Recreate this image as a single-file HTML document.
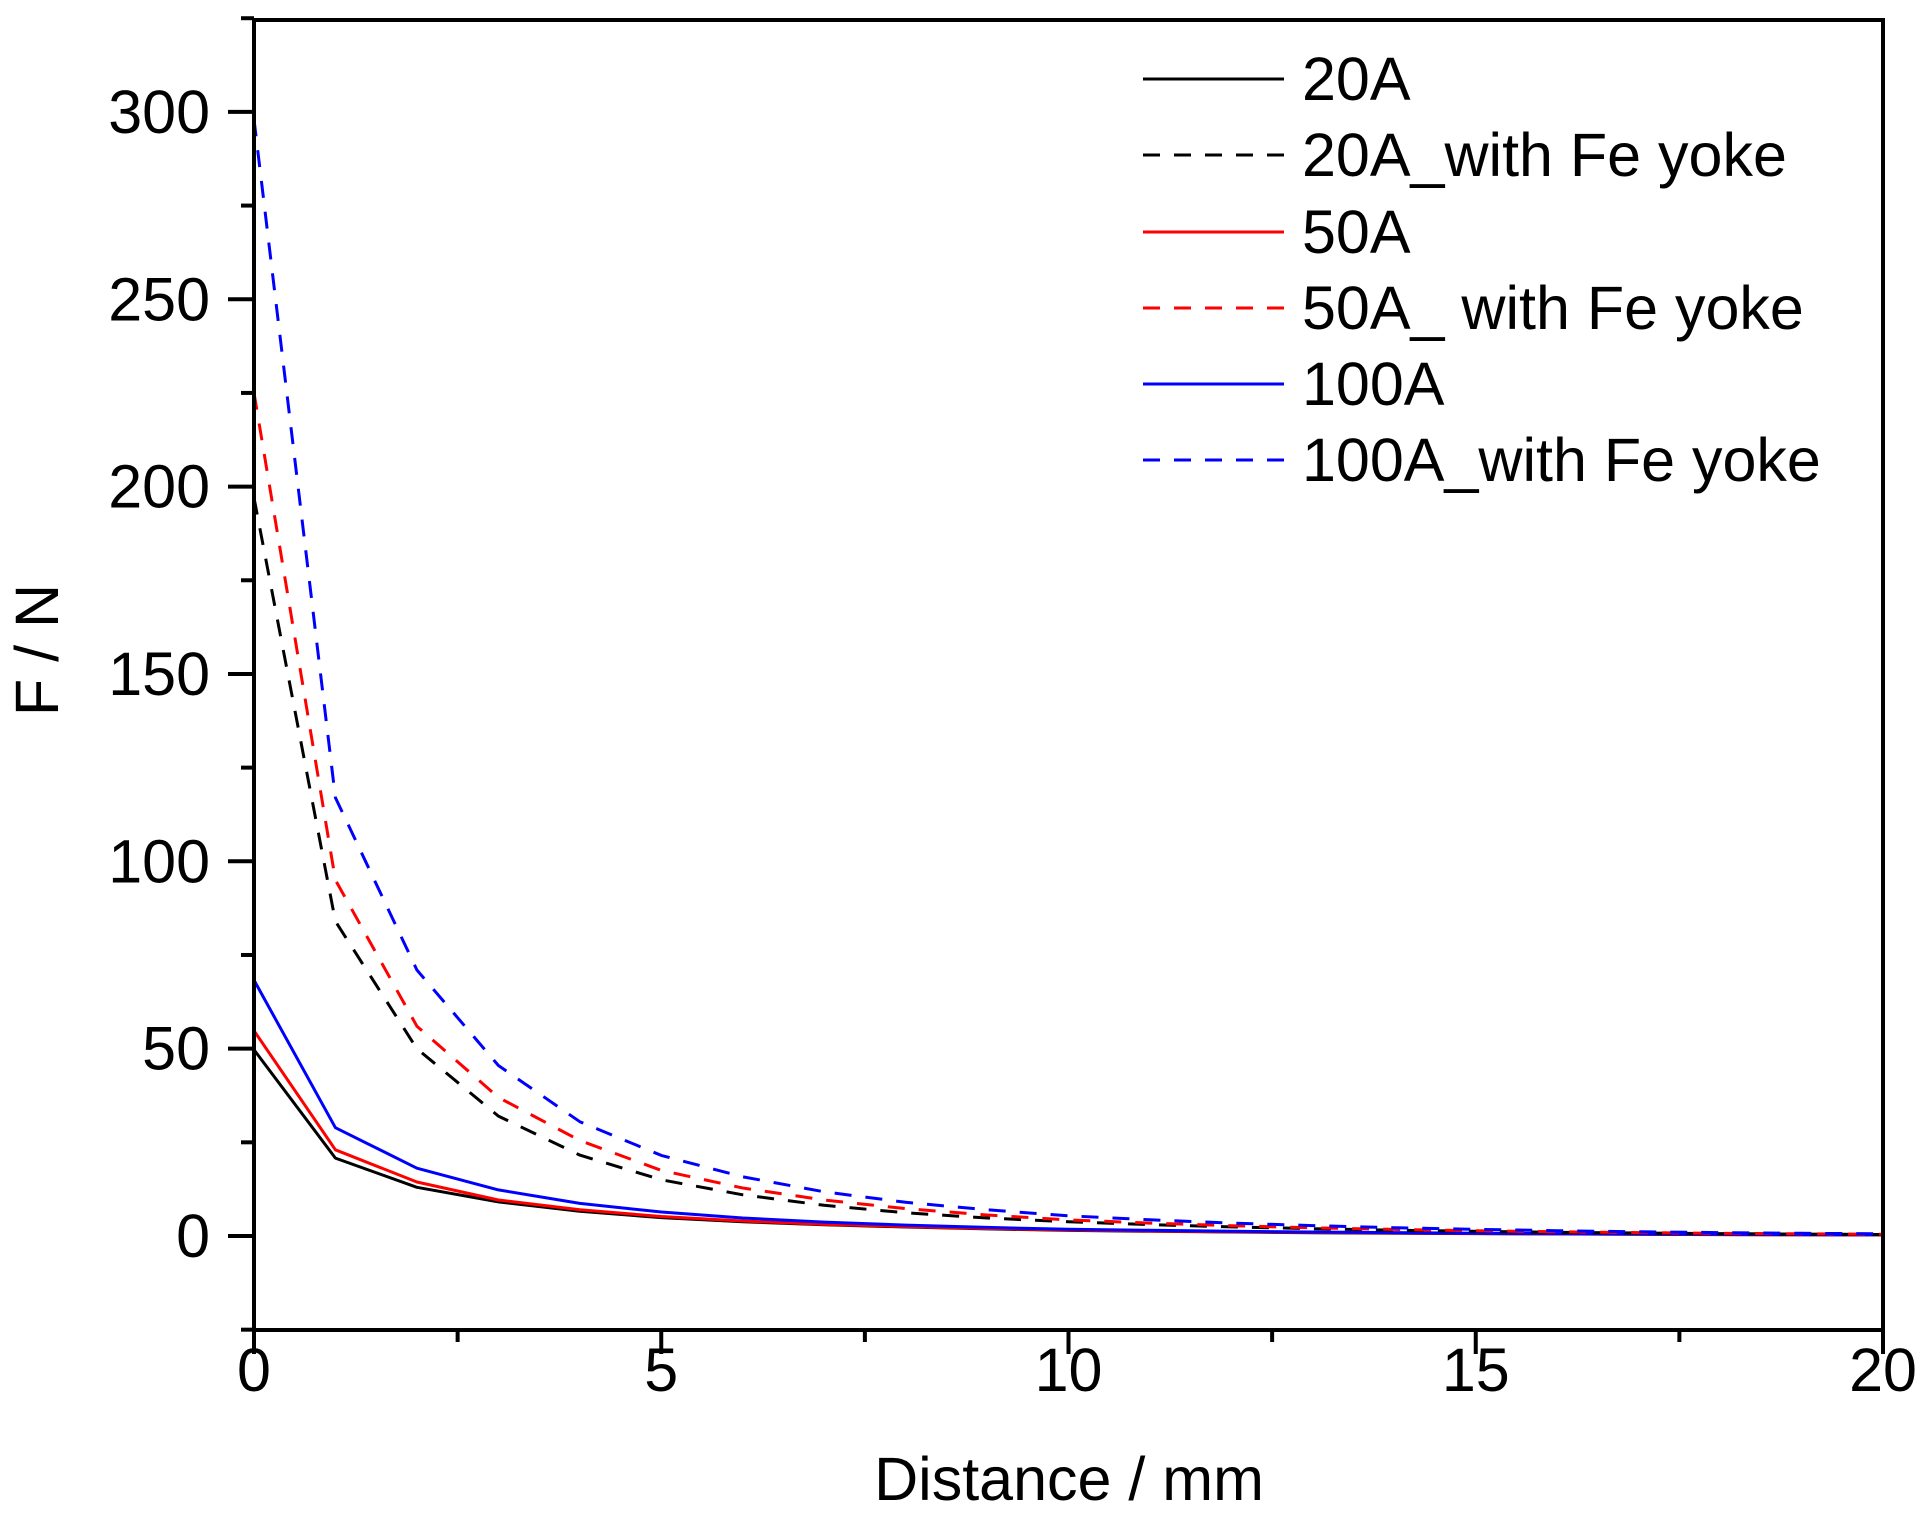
<!DOCTYPE html>
<html><head><meta charset="utf-8"><style>
html,body{margin:0;padding:0;background:#fff;}
svg text{font-family:"Liberation Sans",Arial,sans-serif;fill:#000;}
</style></head><body>
<svg id="c" width="1925" height="1516" viewBox="0 0 1925 1516" xmlns="http://www.w3.org/2000/svg">
<rect width="1925" height="1516" fill="#fff"/>
<g id="series" fill="none" stroke-width="3" stroke-linejoin="round"></g>
<g stroke="#000" stroke-width="4" fill="none">
<rect x="254" y="20" width="1629" height="1310"/>
</g>
<g id="ticks" stroke="#000" stroke-width="4"></g>
<g id="labels" font-size="61"></g>
<text x="1069" y="1500" font-size="61" text-anchor="middle">Distance / mm</text>
<text transform="translate(58,650) rotate(-90)" font-size="61" text-anchor="middle">F / N</text>
<g font-size="61">
<line x1="1143" y1="79" x2="1284" y2="79" stroke="#000" stroke-width="3"/>
<text x="1302" y="100">20A</text>
<line x1="1143" y1="155" x2="1284" y2="155" stroke="#000" stroke-width="3" stroke-dasharray="17 14"/>
<text x="1302" y="176">20A_with Fe yoke</text>
<line x1="1143" y1="232" x2="1284" y2="232" stroke="#f00" stroke-width="3"/>
<text x="1302" y="253">50A</text>
<line x1="1143" y1="308" x2="1284" y2="308" stroke="#f00" stroke-width="3" stroke-dasharray="17 14"/>
<text x="1302" y="329">50A_ with Fe yoke</text>
<line x1="1143" y1="384" x2="1284" y2="384" stroke="#00f" stroke-width="3"/>
<text x="1302" y="405">100A</text>
<line x1="1143" y1="460" x2="1284" y2="460" stroke="#00f" stroke-width="3" stroke-dasharray="17 14"/>
<text x="1302" y="481">100A_with Fe yoke</text>
</g>
</svg>
<script>
var X0=254,X1=1883,Y0=1236,PY=3.747;
function sx(v){return X0+(X1-X0)*v/20;}
function sy(v){return Y0-v*PY;}
function tail(arr,r){while(arr.length<21){arr.push(arr[arr.length-1]*r);}return arr;}
var S=[
 ["#000",false,tail([49.7,20.8,13,9.1,6.6,4.9,3.8,3.0,2.4,1.9,1.5],0.84)],
 ["#f00",false,tail([54.8,23,14.4,9.6,7,5.2,4.0,3.1,2.5,2.0,1.6],0.84)],
 ["#00f",false,tail([68.3,28.9,18.1,12.3,8.7,6.4,4.8,3.7,2.9,2.3,1.8],0.84)],
 ["#000",true,tail([197,84,50,32,21.6,15,11,8.2,6.2,4.8,3.8],0.8)],
 ["#f00",true,tail([225,95,56,37,25.5,17.5,12.8,9.6,7.3,5.6,4.3],0.8)],
 ["#00f",true,tail([298,117,71,45.5,30.5,21.5,15.8,11.8,9,7,5.4],0.8)]
];
var g=document.getElementById('series'),h='';
S.forEach(function(s){var d='';s[2].forEach(function(v,i){d+=(i?'L':'M')+sx(i).toFixed(1)+' '+sy(v).toFixed(1);});
h+='<path d="'+d+'" stroke="'+s[0]+'"'+(s[1]?' stroke-dasharray="17 14"':'')+'/>';});
g.innerHTML=h;
var t='',l='';
for(var v=-25;v<=325;v+=25){var y=sy(v);var maj=(v%50==0);t+='<line x1="'+(maj?228:241)+'" y1="'+y+'" x2="254" y2="'+y+'"/>';
 if(maj)l+='<text x="210" y="'+(y+21)+'" text-anchor="end">'+v+'</text>';}
for(var v=0;v<=20;v+=2.5){var x=sx(v);var maj=(v%5==0);t+='<line x1="'+x+'" y1="1330" x2="'+x+'" y2="'+(maj?1354:1342)+'"/>';
 if(maj)l+='<text x="'+x+'" y="1391" text-anchor="middle">'+v+'</text>';}
document.getElementById('ticks').innerHTML=t;
document.getElementById('labels').innerHTML=l;
</script>
</body></html>
